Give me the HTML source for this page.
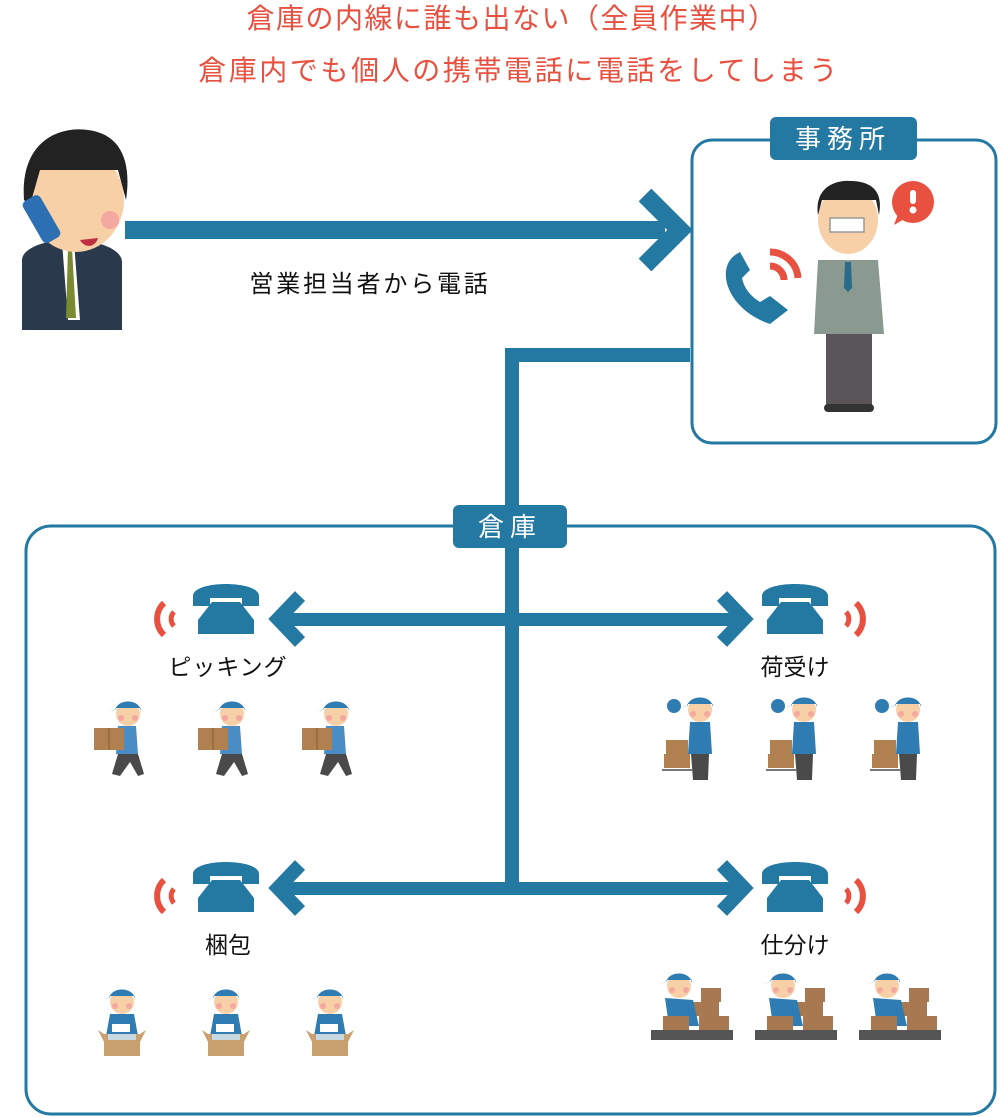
<!DOCTYPE html>
<html><head><meta charset="utf-8">
<style>
html,body{margin:0;padding:0;background:#fff;}
body{width:1000px;height:1117px;overflow:hidden;}
svg{display:block;}
text{font-family:"Liberation Sans","Noto Sans CJK JP",sans-serif;}
</style></head>
<body>
<svg width="1000" height="1117" viewBox="0 0 1000 1117" xmlns="http://www.w3.org/2000/svg">
<defs>
  <g id="phone">
    <path d="M-33,-14 C-33,-30 33,-30 33,-14 L33,-4 L16,-4 L16,-12 L-16,-12 L-16,-4 L-33,-4 Z" fill="#2479a2"/>
    <path d="M-14,-8 L14,-8 L28,10 L28,24 L-28,24 L-28,10 Z" fill="#2479a2"/>
  </g>
  <g id="wavesL" fill="none" stroke="#e85040" stroke-linecap="butt">
    <path d="M-8,-16 A22,22 0 0 0 -8,16" stroke-width="6"/>
    <path d="M2,-7 A10,10 0 0 0 2,7" stroke-width="5"/>
  </g>
  <g id="head">
    <circle cx="0" cy="0" r="12" fill="#f8d0a8"/>
    <path d="M-13,-2 C-13,-16 13,-16 13,-2 L13,-6 L-13,-6 Z" fill="#2f7cb3"/>
    <path d="M-14,-4 L-20,-2 L-10,-5 Z" fill="#2f7cb3"/>
    <circle cx="-7" cy="4" r="3" fill="#f4a8a0"/><circle cx="7" cy="4" r="3" fill="#f4a8a0"/>
  </g>
  <g id="picker">
    <use href="#head" x="10" y="-28"/>
    <path d="M0,-16 L18,-16 L20,12 L-2,12 Z" fill="#4a8cc4"/>
    <path d="M0,12 L20,12 L26,32 L20,34 L12,20 L2,34 L-6,32 Z" fill="#4a4a4a"/>
    <rect x="-24" y="-14" width="30" height="22" fill="#b08050"/>
    <line x1="-9" y1="-14" x2="-9" y2="8" stroke="#8a6038" stroke-width="1"/>
  </g>
  <g id="receiver">
    <use href="#head" x="12" y="-30"/>
    <path d="M2,-18 L22,-18 L24,14 L0,14 Z" fill="#2f7cb3"/>
    <path d="M3,14 L21,14 L20,40 L5,40 Z" fill="#4a4a4a"/>
    <rect x="-22" y="0" width="22" height="14" fill="#b08050"/>
    <rect x="-24" y="14" width="26" height="14" fill="#b08050"/>
    <line x1="-26" y1="30" x2="4" y2="30" stroke="#777" stroke-width="2"/>
    <circle cx="-14" cy="-34" r="7" fill="#2f7cb3"/>
  </g>
  <g id="packer">
    <use href="#head" x="0" y="-34"/>
    <path d="M-12,-22 L12,-22 L16,0 L-16,0 Z" fill="#2f7cb3"/>
    <rect x="-10" y="-12" width="18" height="8" fill="#fff"/>
    <path d="M-24,-6 L-18,6 L18,6 L24,-6 L18,-2 L-18,-2 Z" fill="#c8a070"/>
    <rect x="-18" y="-2" width="36" height="22" fill="#c8a070"/>
    <rect x="-14" y="-2" width="28" height="6" fill="#c8d8e0"/>
  </g>
  <g id="sorter">
    <rect x="28" y="-22" width="20" height="14" fill="#a87850"/>
    <rect x="20" y="-8" width="26" height="14" fill="#a87850"/>
    <rect x="26" y="6" width="30" height="14" fill="#a87850"/>
    <use href="#head" x="6" y="-24"/>
    <path d="M-8,-12 L20,-10 L26,16 L-4,16 Z" fill="#2f7cb3"/>
    <rect x="-10" y="6" width="26" height="14" fill="#a87850"/>
    <rect x="-22" y="20" width="82" height="10" fill="#555"/>
  </g>
</defs>

<!-- titles -->
<text x="512" y="28" text-anchor="middle" font-size="28" fill="#e85040" letter-spacing="1.5">倉庫の内線に誰も出ない（全員作業中）</text>
<text x="519" y="80" text-anchor="middle" font-size="28" fill="#e85040" letter-spacing="2.6">倉庫内でも個人の携帯電話に電話をしてしまう</text>

<!-- caller -->
<path d="M22,260 C22,250 40,240 70,240 C100,240 122,250 122,262 L122,330 L22,330 Z" fill="#2a3a4c"/>
<path d="M62,242 L74,242 L80,320 L68,320 Z" fill="#fff"/>
<path d="M68,248 L72,248 L76,318 L66,318 Z" fill="#7a8a30"/>
<ellipse cx="76" cy="200" rx="48" ry="52" fill="#f8d0a8"/>
<path d="M24,200 C20,140 60,126 88,130 C120,134 132,160 126,200 L118,170 L40,170 L30,205 Z" fill="#222"/>
<circle cx="110" cy="220" r="9" fill="#f4a8a0"/>
<path d="M80,240 C86,250 96,246 98,238 Z" fill="#c03040"/>
<rect x="32" y="195" width="20" height="48" rx="5" fill="#2c6fb3" transform="rotate(-30 42 220)"/>

<!-- top arrow -->
<rect x="125" y="221" width="540" height="18" fill="#2479a2"/>
<path d="M645,195 L680,230 L645,265" fill="none" stroke="#2479a2" stroke-width="18"/>
<text x="370" y="292" text-anchor="middle" font-size="24" fill="#111" letter-spacing="2.8">営業担当者から電話</text>

<!-- office -->
<rect x="692" y="140" width="304" height="303" rx="20" fill="#fff" stroke="#2479a2" stroke-width="3"/>
<rect x="770" y="117" width="147" height="43" rx="6" fill="#2479a2"/>
<text x="843" y="148" text-anchor="middle" font-size="26" fill="#fff" letter-spacing="6">事務所</text>
<path d="M735,255 C715,270 728,310 770,324 L788,310 L770,296 L760,302 C750,296 744,288 742,278 L750,270 L740,252 Z" fill="#2479a2"/>
<path d="M770,252 A28,28 0 0 1 798,278" fill="none" stroke="#e85040" stroke-width="7"/>
<path d="M770,266 A14,14 0 0 1 784,280" fill="none" stroke="#e85040" stroke-width="7"/>
<circle cx="913" cy="202" r="21" fill="#e85040"/>
<path d="M898,214 L894,225 L906,218 Z" fill="#e85040"/>
<rect x="910" y="190" width="6" height="14" rx="3" fill="#fff"/><circle cx="913" cy="210" r="3.5" fill="#fff"/>
<ellipse cx="848" cy="220" rx="30" ry="34" fill="#f8d0a8"/>
<path d="M818,215 C814,184 840,180 850,181 C870,181 884,190 879,215 L876,200 L822,200 Z" fill="#222"/>
<rect x="830" y="218" width="34" height="14" fill="#fff" stroke="#999" stroke-width="1.5"/>
<path d="M818,260 L878,260 L884,334 L814,334 Z" fill="#8a9a90"/>
<path d="M845,262 L851,262 L852,288 L848,292 L844,288 Z" fill="#2a6a8a"/>
<rect x="826" y="334" width="46" height="74" fill="#5a5558"/>
<rect x="824" y="404" width="50" height="8" rx="4" fill="#333"/>

<!-- connector -->
<rect x="505" y="348" width="185" height="14" fill="#2479a2"/>
<rect x="505" y="348" width="14" height="546" fill="#2479a2"/>

<!-- warehouse -->
<rect x="26" y="526" width="969" height="588" rx="25" fill="none" stroke="#2479a2" stroke-width="3"/>
<rect x="453" y="505" width="114" height="43" rx="6" fill="#2479a2"/>
<text x="510" y="536" text-anchor="middle" font-size="26" fill="#fff" letter-spacing="6">倉庫</text>

<!-- branches -->
<rect x="285" y="613" width="455" height="13" fill="#2479a2"/>
<path d="M300,596 L278,619 L300,642" fill="none" stroke="#2479a2" stroke-width="14"/>
<path d="M722,596 L744,619 L722,642" fill="none" stroke="#2479a2" stroke-width="14"/>
<rect x="285" y="882" width="455" height="13" fill="#2479a2"/>
<path d="M300,865 L278,888 L300,911" fill="none" stroke="#2479a2" stroke-width="14"/>
<path d="M722,865 L744,888 L722,911" fill="none" stroke="#2479a2" stroke-width="14"/>

<!-- phones -->
<use href="#phone" x="226" y="610"/><use href="#wavesL" x="172" y="619"/>
<use href="#phone" x="795" y="610"/><use href="#wavesL" transform="translate(848 619) scale(-1 1)"/>
<use href="#phone" x="226" y="888"/><use href="#wavesL" x="172" y="896"/>
<use href="#phone" x="795" y="888"/><use href="#wavesL" transform="translate(848 896) scale(-1 1)"/>

<text x="228" y="675" text-anchor="middle" font-size="23" fill="#111" letter-spacing="1">ピッキング</text>
<text x="795" y="675" text-anchor="middle" font-size="23" fill="#111">荷受け</text>
<text x="228" y="953" text-anchor="middle" font-size="23" fill="#111">梱包</text>
<text x="795" y="953" text-anchor="middle" font-size="23" fill="#111">仕分け</text>

<!-- workers -->
<use href="#picker" x="118" y="742"/><use href="#picker" x="222" y="742"/><use href="#picker" x="326" y="742"/>
<use href="#receiver" x="688" y="740"/><use href="#receiver" x="792" y="740"/><use href="#receiver" x="896" y="740"/>
<use href="#packer" x="122" y="1036"/><use href="#packer" x="226" y="1036"/><use href="#packer" x="330" y="1036"/>
<use href="#sorter" x="673" y="1010"/><use href="#sorter" x="777" y="1010"/><use href="#sorter" x="881" y="1010"/>
</svg>
</body></html>
